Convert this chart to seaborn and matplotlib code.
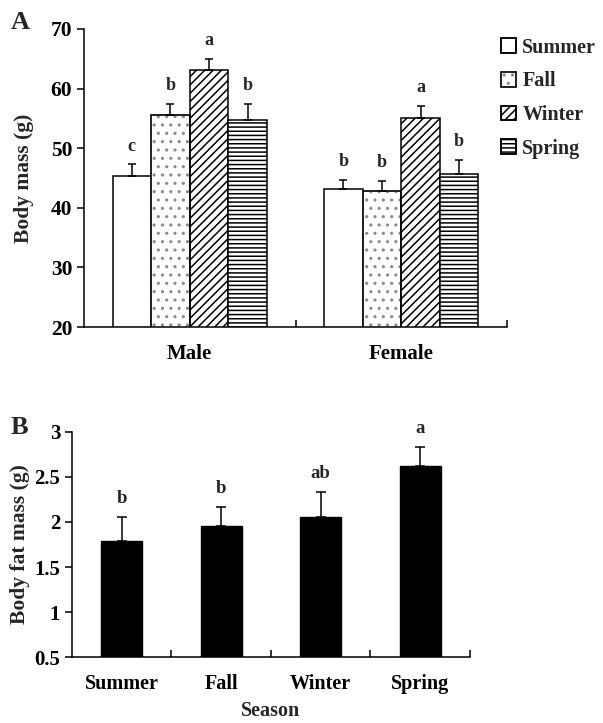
import pandas as pd
import numpy as np
import matplotlib
matplotlib.use('Agg')
import matplotlib.pyplot as plt
import matplotlib.patches as mpatches
import seaborn as sns

# dados
seasons = ['Summer', 'Fall', 'Winter', 'Spring']
sexes = ['Male', 'Female']
male_mass = [45.4, 55.6, 63.1, 54.7]
male_se = [1.9, 1.8, 1.9, 2.7]
female_mass = [43.2, 42.9, 55.1, 45.7]
female_se = [1.5, 1.6, 2.0, 2.3]
male_letters = ['c', 'b', 'a', 'b']
female_letters = ['b', 'b', 'a', 'b']

fat_mass = [1.79, 1.96, 2.05, 2.62]
fat_se = [0.27, 0.21, 0.28, 0.21]
fat_letters = ['b', 'b', 'ab', 'a']

hatches = ['', '..', '////', '----']
hatch_colors = ['black', '0.55', 'black', 'black']

sns.set_style('ticks')
plt.rcParams['font.family'] = ['Liberation Serif', 'DejaVu Serif']
plt.rcParams['font.weight'] = 'bold'
plt.rcParams['axes.labelweight'] = 'bold'
plt.rcParams['hatch.linewidth'] = 1.1
plt.rcParams['axes.linewidth'] = 1.1
plt.rcParams['xtick.color'] = 'black'
plt.rcParams['ytick.color'] = 'black'
plt.rcParams['axes.edgecolor'] = 'black'

df_a = pd.DataFrame({
    'sex': np.repeat(sexes, 4),
    'season': seasons * 2,
    'mass': male_mass + female_mass,
    'se': male_se + female_se,
    'letter': male_letters + female_letters,
})

fig = plt.figure(figsize=(6.03, 7.23), dpi=100)
ax1 = fig.add_axes([0.1393, 0.5477, 0.7015, 0.4122])
ax2 = fig.add_axes([0.1194, 0.0909, 0.660, 0.312])

# --- Painel A ---
sns.barplot(data=df_a, x='sex', y='mass', hue='season', order=sexes, hue_order=seasons,
            errorbar=None, width=0.73, gap=0, legend=False, ax=ax1,
            palette=['white'] * 4, edgecolor='black', linewidth=1.1)
for cont, h, hc, s in zip(ax1.containers, hatches, hatch_colors, seasons):
    sub = df_a[df_a['season'] == s].set_index('sex').loc[sexes]
    for bar, se, let in zip(cont, sub['se'], sub['letter']):
        bar.set_hatch(h)
        if hc != 'black':
            # hachura cinza: pinta a borda de cinza e redesenha o contorno preto por cima
            bar.set_edgecolor(hc)
            ax1.add_patch(mpatches.Rectangle(bar.get_xy(), bar.get_width(), bar.get_height(),
                                             fill=False, edgecolor='black', linewidth=1.1, zorder=3))
        xc = bar.get_x() + bar.get_width() / 2
        top = bar.get_height()
        ax1.errorbar(xc, top, yerr=[[0], [se]], fmt='none', ecolor='black',
                     elinewidth=1.1, capsize=3, capthick=1.1, zorder=5)
        ax1.annotate(let, (xc, top + se), xytext=(0, 7), textcoords='offset points',
                     ha='center', va='bottom', fontsize=13, fontweight='bold')

ax1.set_ylim(20, 70)
ax1.set_xlim(-0.5, 1.5)
ax1.set_yticks(range(20, 71, 10))
ax1.set_xticks([0.5, 1.5], minor=True)
ax1.tick_params(axis='x', which='major', length=0, pad=12, labelsize=15)
ax1.tick_params(axis='x', which='minor', direction='in', length=5, width=1.1)
ax1.tick_params(axis='y', direction='out', length=5, width=1.1, labelsize=15.5)
ax1.set_xlabel('')
ax1.set_ylabel('Body mass (g)', fontsize=15.5, labelpad=12)
sns.despine(ax=ax1)

handles = []
for h, hc, s in zip(hatches, hatch_colors, seasons):
    fill = mpatches.Patch(facecolor='white', edgecolor=hc, hatch=h, linewidth=1.1)
    outline = mpatches.Patch(facecolor='none', edgecolor='black', linewidth=1.1)
    handles.append((fill, outline))
fig.legend(handles=handles, labels=seasons, loc='upper left', bbox_to_anchor=(0.831, 0.948),
           frameon=False, handlelength=0.75, handleheight=0.75, handletextpad=0.3,
           labelspacing=0.68, borderpad=0, borderaxespad=0, prop={'size': 14.5, 'weight': 'bold'})

# --- Painel B ---
df_b = pd.DataFrame({'season': seasons, 'fat': fat_mass, 'se': fat_se, 'letter': fat_letters})
sns.barplot(data=df_b, x='season', y='fat', order=seasons, errorbar=None, width=0.41,
            color='black', edgecolor='black', saturation=1, ax=ax2)
for bar, se, let in zip(ax2.containers[0], df_b['se'], df_b['letter']):
    xc = bar.get_x() + bar.get_width() / 2
    top = bar.get_height()
    ax2.errorbar(xc, top, yerr=[[0], [se]], fmt='none', ecolor='black',
                 elinewidth=1.1, capsize=3.5, capthick=1.1, zorder=5)
    ax2.annotate(let, (xc, top + se), xytext=(0, 7), textcoords='offset points',
                 ha='center', va='bottom', fontsize=13.5, fontweight='bold')

ax2.set_ylim(0.5, 3)
ax2.set_xlim(-0.5, 3.5)
ax2.set_yticks([0.5, 1, 1.5, 2, 2.5, 3])
ax2.set_yticklabels(['0.5', '1', '1.5', '2', '2.5', '3'])
ax2.set_xticks([0.5, 1.5, 2.5, 3.5], minor=True)
ax2.tick_params(axis='x', which='major', length=0, pad=12, labelsize=14.5)
ax2.tick_params(axis='x', which='minor', direction='in', length=5, width=1.1)
ax2.tick_params(axis='y', direction='out', length=5, width=1.1, labelsize=15)
ax2.set_xlabel('Season', fontsize=14.5, labelpad=5)
ax2.set_ylabel('Body fat mass (g)', fontsize=15.5, labelpad=3)
sns.despine(ax=ax2)

fig.text(0.017, 0.985, 'A', fontsize=19, fontweight='bold', va='top')
fig.text(0.017, 0.424, 'B', fontsize=19, fontweight='bold', va='top')

fig.savefig('out.png', dpi=100)
